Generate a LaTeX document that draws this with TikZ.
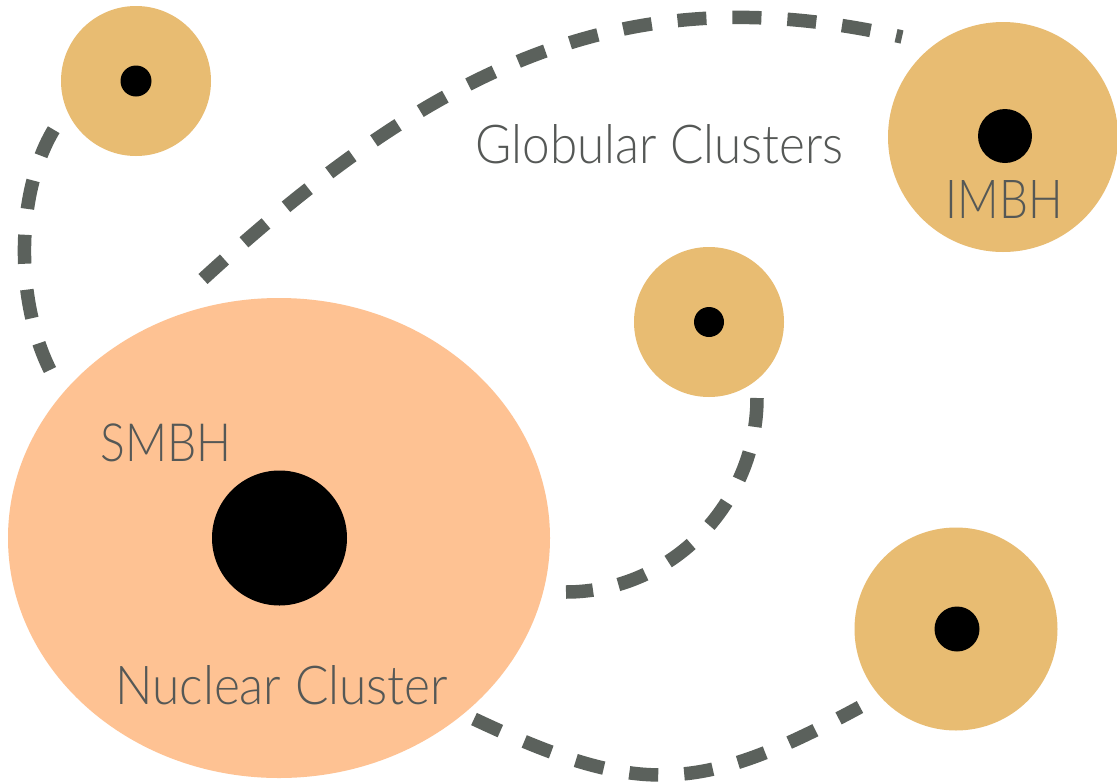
\documentclass[tikz,border=0pt]{standalone}
\usepackage{fontspec}
\IfFontExistsTF{Lato Light}{\setmainfont{Lato Light}}{\setmainfont{Lato}}
\usepackage{graphicx}
\usetikzlibrary{shapes.geometric}
\definecolor{peach}{HTML}{FEC293}
\definecolor{gold}{HTML}{E8BC72}
\definecolor{dashgray}{HTML}{5B615C}
\definecolor{labelgray}{HTML}{555856}
\begin{document}
\begin{tikzpicture}[x=1pt,y=-1pt,
  orbit/.style={draw=dashgray, line width=13.5pt, dash pattern=on 29pt off 26pt},
  lbl/.style={text=labelgray, inner sep=0pt, anchor=base west},
  gc/.style={circle, fill=gold, inner sep=0pt},
  bh/.style={circle, fill=black, inner sep=0pt}]
\useasboundingbox (0,0) rectangle (1117,782);
\fill[white] (0,0) rectangle (1117,782);
% nuclear cluster
\node[ellipse, fill=peach, inner sep=0pt, minimum width=542pt, minimum height=480pt] (nc) at (279,538) {};
\node[bh, minimum size=135pt] (smbh) at (279.5,538) {};
% globular clusters
\node[gc, minimum size=150pt] (gc1) at (136,81) {};
\node[bh, minimum size=31pt] (bh1) at (136,81) {};
\node[gc, minimum size=230pt] (gc2) at (1003,137) {};
\node[bh, minimum size=54pt] (bh2) at (1005,136) {};
\node[gc, minimum size=150pt] (gc3) at (709,322) {};
\node[bh, minimum size=30pt] (bh3) at (709,322) {};
\node[gc, minimum size=203pt] (gc4) at (956,629) {};
\node[bh, minimum size=45pt] (bh4) at (957,629) {};
% orbit end points
\coordinate (a0) at (50,370);
\coordinate (a1) at (56,126);
\coordinate (b0) at (203,279);
\coordinate (b1) at (902,37);
\coordinate (c0) at (757,398);
\coordinate (c1) at (566,592);
\coordinate (d0) at (474,719);
\coordinate (d1) at (860,707);
\draw[orbit] (a0) .. controls (15,300) and (15,190) .. (a1);
\draw[orbit] (b0) .. controls (448,54) and (637,-23) .. (b1);
\draw[orbit] (c0) .. controls (757,503) and (672,592) .. (c1);
\draw[orbit] (d0) .. controls (640,797) and (699,794) .. (d1);
% labels
\node[lbl] (tgc) at (475.5,163.3) {\resizebox{368pt}{39pt}{Globular Clusters}};
\node[lbl] (tim) at (945.7,218.3) {\resizebox{117pt}{38pt}{IMBH}};
\node[lbl] (tsm) at (100.7,461) {\resizebox{131pt}{37.7pt}{SMBH}};
\node[lbl] (tnc) at (115,704) {\resizebox{333pt}{39pt}{Nuclear Cluster}};
\end{tikzpicture}
\end{document}
